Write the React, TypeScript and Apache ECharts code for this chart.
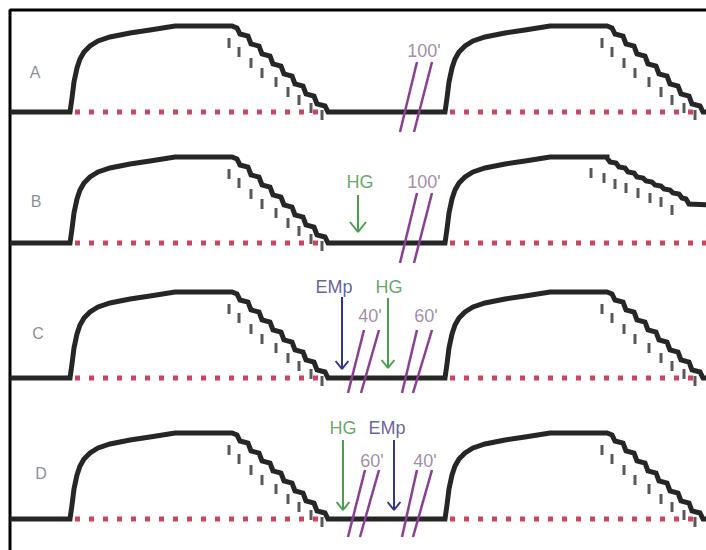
import React, { useEffect, useRef } from "react";
import * as echarts from "echarts";

const W = 706;
const H = 550;

// rows
const rowLetters = ["A", "B", "C", "D"];
const rowBaselines = [112, 243, 378, 519];
const rowLetterPos = [
  [35, 72],
  [36, 201],
  [38, 333],
  [41, 473],
];
const pulseStarts = [70, 445];

// pulse profile: [dx from pulse start, height above baseline]
const riseProfile = [
  [0, 0], [2, 14], [4, 30], [7, 44], [10, 53], [14, 60], [20, 66], [28, 71],
  [40, 75], [60, 79], [80, 82], [105, 86], [162, 86],
];
const fallProfile = [
  [167, 84], [170, 78], [178, 76], [181, 68], [189, 66], [192, 58], [200, 56],
  [203, 48], [211, 46], [214, 38], [222, 36], [225, 28], [233, 26], [236, 18],
  [244, 16], [247, 8], [255, 6], [258, 0], [263, 0],
];
// gentler decay of the second pulse in row B
const fallProfileB2 = [
  [162, 85], [165, 81], [171, 80], [174, 76], [180, 75], [183, 71], [189, 70],
  [192, 66], [198, 65], [201, 62], [207, 61], [210, 58], [216, 57], [219, 54],
  [225, 53], [228, 50], [234, 49], [237, 45], [241, 44], [244, 39], [270, 38],
];
// small dashed marks: [dx, top height]
const tickProfile = [
  [159, 74], [169, 65], [181, 54], [192, 44], [206, 35], [218, 25], [229, 17],
  [241, 9], [252, 2],
];
const tickProfileB2 = [
  [148, 75], [161, 70], [172, 64], [183, 60], [195, 55], [207, 50], [218, 46],
  [229, 38],
];
const dotSpan = [5, 252];
const dotSpanEnd2 = [255, 255, 261];

// break marks per row: [x1, y1, x2, y2]
const breakSlashes = [
  [[417, 62, 400, 132], [432, 62, 414, 132]],
  [[417, 193, 400, 263], [432, 193, 414, 263]],
  [[364, 330, 348, 393], [379, 330, 361, 393], [417, 330, 402, 393], [432, 330, 413, 393]],
  [[365, 470, 348, 537], [379, 470, 360, 537], [417, 470, 402, 537], [432, 470, 413, 537]],
];
const breakLabels: [string, number, number][] = [
  ["100'", 424, 51],
  ["100'", 424, 182],
  ["40'", 370, 316],
  ["60'", 426, 316],
  ["60'", 372, 461],
  ["40'", 425, 461],
];
// arrows: name, x, top, tip, labelX, labelY, head size
const arrows: [string, number, number, number, number, number, number][] = [
  ["HG", 358, 195, 232, 360, 182, 10],
  ["EMp", 342, 297, 369, 334, 287, 8],
  ["HG", 388, 298, 368, 389, 287, 8],
  ["HG", 343, 440, 510, 343, 428, 8],
  ["EMp", 394, 440, 510, 387, 428, 8],
];

const COLORS = {
  curve: "#262626",
  tick: "#2e2e2e",
  dots: "#cc4560",
  slash: "#8a3f95",
  breakText: "#8a6f8f",
  HG: "#3f8f43",
  HGArrow: "#47a04a",
  EMp: "#3b3b80",
  EMpArrow: "#33338a",
  letter: "#6a7078",
};

function buildOption() {
  const series: any[] = [];
  // frame
  series.push({
    type: "line",
    data: [[10, H], [10, 10], [W, 10]],
    symbol: "none",
    lineStyle: { color: "#000", width: 3 },
    z: 1,
  });

  rowBaselines.forEach((base, r) => {
    const pts: number[][] = [[10, base]];
    pulseStarts.forEach((x0, p) => {
      const fall = r === 1 && p === 1 ? fallProfileB2 : fallProfile;
      riseProfile.concat(fall).forEach(([dx, h]) => pts.push([x0 + dx, base - h]));
    });
    series.push({
      type: "line",
      data: pts,
      symbol: "none",
      lineStyle: { color: COLORS.curve, width: 5, join: "miter" },
      z: 2,
    });
    // red dotted reference
    pulseStarts.forEach((x0, p) => {
      const end = p === 0 ? dotSpan[1] : dotSpanEnd2[r === 1 ? 2 : 0];
      series.push({
        type: "line",
        data: [[x0 + dotSpan[0], base], [x0 + end, base]],
        symbol: "none",
        lineStyle: { color: COLORS.dots, width: 5, type: [5, 9], cap: "butt" },
        z: 3,
      });
    });
    // ticks
    const tickPts: number[][] = [];
    pulseStarts.forEach((x0, p) => {
      const prof = r === 1 && p === 1 ? tickProfileB2 : tickProfile;
      prof.forEach(([dx, h]) => tickPts.push([x0 + dx - (p === 1 ? 2 : 0), base - h + 5]));
    });
    series.push({
      type: "scatter",
      data: tickPts,
      symbol: "rect",
      symbolSize: [3, 10],
      itemStyle: { color: COLORS.tick },
      z: 4,
    });
    // breaks
    breakSlashes[r].forEach(([x1, y1, x2, y2]) => {
      series.push({
        type: "line",
        data: [[x1, y1], [x2, y2]],
        symbol: "none",
        lineStyle: { color: COLORS.slash, width: 2.5 },
        z: 5,
      });
    });
  });

  // arrows
  arrows.forEach(([name, x, top, tip, , , hs]) => {
    const c = name === "HG" ? COLORS.HGArrow : COLORS.EMpArrow;
    series.push({
      type: "line",
      data: [[x, top], [x, tip]],
      symbol: "none",
      lineStyle: { color: c, width: 2 },
      z: 6,
    });
    series.push({
      type: "line",
      data: [[x - hs * 0.8, tip - hs], [x, tip], [x + hs * 0.8, tip - hs]],
      symbol: "none",
      lineStyle: { color: c, width: 2 },
      z: 6,
    });
  });

  // texts
  const texts: any[] = [];
  rowLetters.forEach((t, i) =>
    texts.push({ name: t, value: rowLetterPos[i], label: { color: COLORS.letter, fontSize: 16 } })
  );
  breakLabels.forEach(([t, x, y]) =>
    texts.push({ name: t, value: [x, y], label: { color: COLORS.breakText, fontSize: 18 } })
  );
  arrows.forEach(([name, , , , lx, ly]) =>
    texts.push({
      name,
      value: [lx, ly],
      label: { color: name === "HG" ? COLORS.HG : COLORS.EMp, fontSize: 18 },
    })
  );
  series.push({
    type: "scatter",
    data: texts,
    symbolSize: 1,
    itemStyle: { color: "rgba(0,0,0,0)" },
    label: {
      show: true,
      position: "inside",
      formatter: "{b}",
      fontFamily: "Liberation Sans",
      align: "center",
      verticalAlign: "middle",
    },
    z: 7,
  });

  return {
    animation: false,
    backgroundColor: "#ffffff",
    grid: { left: 0, right: 0, top: 0, bottom: 0 },
    xAxis: { type: "value", min: 0, max: W, show: false },
    yAxis: { type: "value", min: 0, max: H, inverse: true, show: false },
    series,
  };
}

export default function App() {
  const ref = useRef<HTMLDivElement>(null);
  useEffect(() => {
    if (!ref.current) return;
    const chart = echarts.init(ref.current, undefined, { renderer: "svg" });
    chart.setOption(buildOption() as any);
    return () => chart.dispose();
  }, []);
  return (
    <div
      ref={ref}
      style={{ position: "absolute", left: 0, top: 0, width: W, height: H, background: "#fff" }}
    />
  );
}
